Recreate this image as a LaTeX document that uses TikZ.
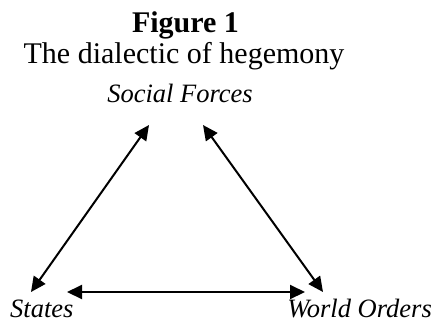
\documentclass[tikz,border=0pt]{standalone}
\usepackage{fontspec}
\setmainfont{Liberation Serif}
\usetikzlibrary{arrows.meta, positioning}

\begin{document}
\begin{tikzpicture}[
  x=1pt, y=-1pt,
  % Styles
  title/.style={font=\fontsize{30}{34}\selectfont\bfseries, inner sep=0pt, anchor=base},
  subtitle/.style={font=\fontsize{30}{35}\selectfont, inner sep=0pt, anchor=base},
  force/.style={font=\fontsize{26.5}{31}\selectfont\itshape, inner sep=0pt},
  arr/.style={{Triangle[length=15pt, width=14pt]}-{Triangle[length=15pt, width=14pt]}, line width=2pt},
]
  \useasboundingbox (0,0) rectangle (438,333);

  % ── TITLE ─────────────────────────────────────────────────
  \node[title] (fig) at (185.5,32) {Figure 1};
  \node[subtitle] (sub) at (184,63) {The dialectic of hegemony};

  % ── THE THREE FORCES ──────────────────────────────────────
  \node[force, anchor=base] (social) at (180,102) {Social Forces};
  \node[force, anchor=base west] (states) at (10,317) {States};
  \node[force, anchor=base east] (world) at (432,317) {World Orders};

  % Arrow ends
  \coordinate (social-l) at (149,125);
  \coordinate (social-r) at (203,125);
  \coordinate (states-t) at (31,292);
  \coordinate (states-r) at (67,292);
  \coordinate (world-l) at (305,292);
  \coordinate (world-t) at (323,292);

  % ── ARROWS ────────────────────────────────────────────────
  \draw[arr] (social-l) -- (states-t);
  \draw[arr] (social-r) -- (world-t);
  \draw[arr] (states-r) -- (world-l);

\end{tikzpicture}
\end{document}
